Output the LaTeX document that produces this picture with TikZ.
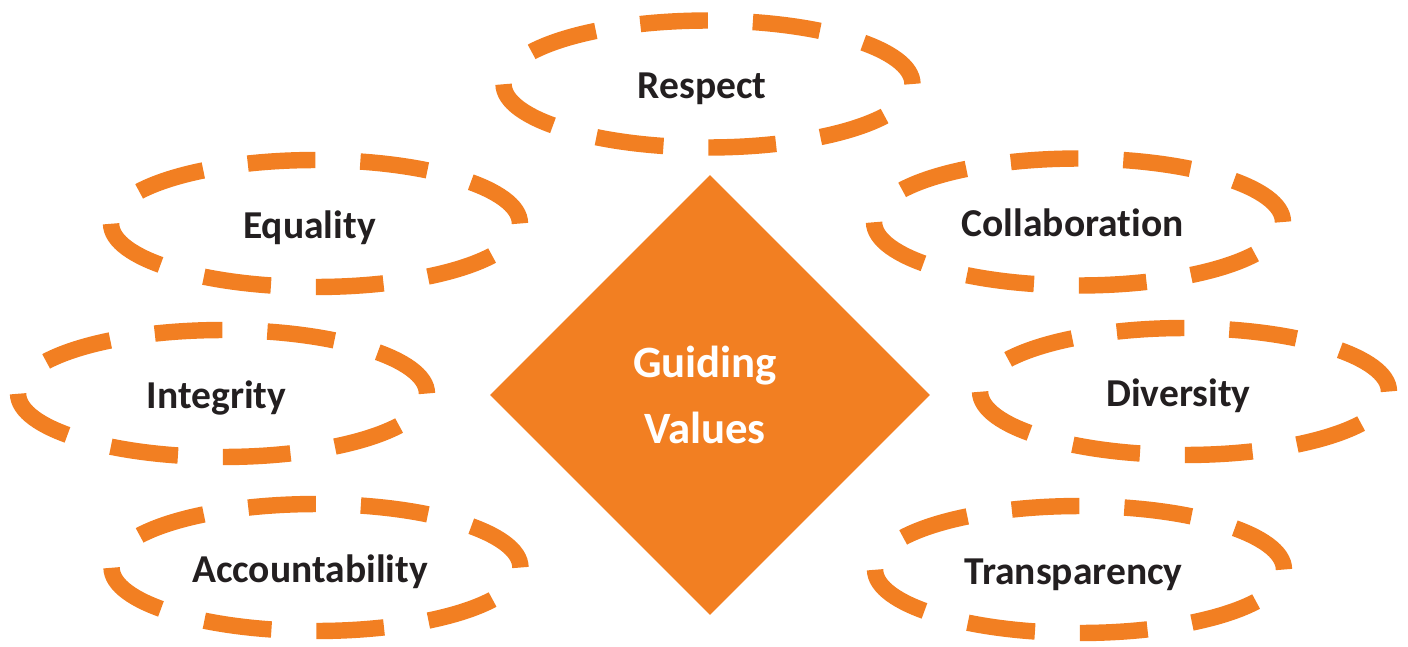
\documentclass[tikz,border=0pt]{standalone}
\usepackage{fontspec}
\setmainfont{Carlito}[Ligatures=NoCommon]
\usepackage{xcolor}
\usepackage{tikz}
\usetikzlibrary{shapes.geometric}
\definecolor{gvorange}{RGB}{242,127,34}
\definecolor{gvtext}{RGB}{35,31,32}

\begin{document}
\begin{tikzpicture}[
    % GLOBAL CFG
    x=0.02cm,
    y=-0.02cm,
    font=\bfseries,
    % Styles
    valuering/.style={% dashed ring round each value
        ellipse,
        draw=gvorange,
        line width=9.35pt,
        dash pattern=on 38.55pt off 25.6pt,
        minimum width=8.18cm,
        minimum height=2.54cm,
        inner sep=0pt,
        },
    valuetext/.style={% the word inside a ring
        text=gvtext,
        font=\bfseries\fontsize{22.5}{27}\selectfont,
        inner sep=0pt,
        text height=17pt,
        text depth=0pt,
        xshift=-0.12cm,
        },
    core/.style={% the big diamond in the middle
        diamond,
        fill=gvorange,
        minimum width=8.8cm,
        minimum height=8.8cm,
        inner sep=0pt,
        },
    coretext/.style={% white words on the diamond
        text=white,
        align=center,
        inner sep=0pt,
        font=\bfseries\fontsize{25.5}{38}\selectfont,
        xshift=-0.1cm,
        },
    ]

    \useasboundingbox (0,0) rectangle (1408,646);

    % Draw the centre
    \node [core, label={[coretext]center:{Guiding\\Values}}] (gv) at (710,395) {};

    % Draw the values, left side then right side
    \node [valuering, label={[valuetext]center:Respect}] (resp) at (708,84) {}; % top
    \node [valuering, label={[valuetext]center:Equality}] (equal) at (315.5,223.5) {};
    \node [valuering, label={[valuetext]center:Integrity}] (integ) at (222.5,393.5) {};
    \node [valuering, label={[valuetext]center:Accountability}] (account) at (316,567.5) {};
    \node [valuering, label={[valuetext]center:Collaboration}] (collab) at (1078.5,222) {};
    \node [valuering, label={[valuetext]center:Diversity}] (divers) at (1184.5,391.5) {};
    \node [valuering, label={[valuetext]center:Transparency}] (transp) at (1079.5,569.5) {};

\end{tikzpicture}
\end{document}
